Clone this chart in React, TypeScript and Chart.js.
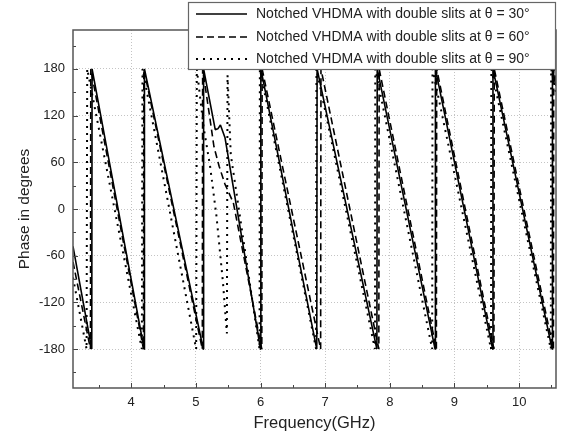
import React, { useEffect, useRef } from 'react';
import { Chart, registerables } from 'chart.js';

Chart.register(...registerables);

// ---- Data ----
const seriesLabels = [
  'Notched VHDMA with double slits at θ = 30°',
  'Notched VHDMA with double slits at θ = 60°',
  'Notched VHDMA with double slits at θ = 90°',
];

const freq30 = [3.1, 3.39, 3.395, 4.2, 4.205, 5.115, 5.12, 5.3, 5.34, 5.38, 5.45, 6.0, 6.005, 6.87, 6.875, 7.8, 7.805, 8.7, 8.705, 9.59, 9.595, 10.51, 10.515, 10.57];
const phase30 = [-48, -180, 180, -180, 180, -180, 180, 102, 103, 108, 92, -180, 180, -180, 180, -180, 180, -180, 180, -180, 180, -180, 180, 158];

const freq60 = [3.1, 3.37, 3.375, 4.19, 4.195, 5.1, 5.105, 5.22, 5.28, 5.36, 5.45, 5.58, 6.02, 6.025, 6.93, 6.935, 7.83, 7.835, 8.72, 8.725, 9.61, 9.615, 10.53, 10.535, 10.57];
const phase60 = [-68, -180, 180, -180, 180, -180, 180, 115, 80, 55, 32, 8, -180, 180, -180, 180, -180, 180, -180, 180, -180, 180, -180, 180, 165];

const freq90 = [3.1, 3.31, 3.32, 4.165, 4.175, 5.005, 5.015, 5.12, 5.22, 5.32, 5.42, 5.48, 5.49, 5.54, 5.985, 5.99, 6.86, 6.865, 7.77, 7.775, 8.655, 8.66, 9.565, 9.57, 10.49, 10.495, 10.57];
const phase90 = [-88, -180, 180, -180, 180, -180, 180, 105, 55, -10, -95, -160, 172, 70, -180, 180, -180, 180, -180, 180, -180, 180, -180, 180, -180, 180, 150];

const xMajorTicks = [4, 5, 6, 7, 8, 9, 10];
const xMinorTicks = [3.5, 4.5, 5.5, 6.5, 7.5, 8.5, 9.5, 10.5];
const yMajorTicks = [-180, -120, -60, 0, 60, 120, 180];
const yMinorTicks = [-210, -150, -90, -30, 30, 90, 150, 210];

const FONT = "'Liberation Sans', Arial, Helvetica, sans-serif";

function zip(xs: number[], ys: number[]) {
  return xs.map((x, i) => ({ x, y: ys[i] }));
}

const framePlugin = {
  id: 'frameTicksLegend',
  afterDraw(chart: any) {
    const { ctx, chartArea } = chart;
    const { left, right, top, bottom } = chartArea;
    const xs = chart.scales.x;
    const ys = chart.scales.y;
    ctx.save();
    // inward ticks
    ctx.strokeStyle = '#444';
    ctx.lineWidth = 1;
    ctx.setLineDash([]);
    ctx.beginPath();
    xMajorTicks.forEach((v) => {
      const p = Math.round(xs.getPixelForValue(v)) + 0.5;
      ctx.moveTo(p, bottom);
      ctx.lineTo(p, bottom - 5);
    });
    xMinorTicks.forEach((v) => {
      const p = Math.round(xs.getPixelForValue(v)) + 0.5;
      ctx.moveTo(p, bottom);
      ctx.lineTo(p, bottom - 3);
    });
    yMajorTicks.forEach((v) => {
      const p = Math.round(ys.getPixelForValue(v)) + 0.5;
      ctx.moveTo(left, p);
      ctx.lineTo(left + 5, p);
    });
    yMinorTicks.forEach((v) => {
      const p = Math.round(ys.getPixelForValue(v)) + 0.5;
      ctx.moveTo(left, p);
      ctx.lineTo(left + 3, p);
    });
    ctx.stroke();
    // frame
    ctx.strokeStyle = '#555';
    ctx.lineWidth = 1.5;
    ctx.strokeRect(left, top, right - left, bottom - top);

    // legend box
    const bx = 188, by = 2, bw = right - 188, bh = 68;
    ctx.fillStyle = '#ffffff';
    ctx.fillRect(bx, by, bw, bh);
    ctx.strokeStyle = '#666';
    ctx.lineWidth = 1.2;
    ctx.strokeRect(bx + 0.5, by + 0.5, bw - 1, bh - 1);
    const rows = [14, 37, 59];
    chart.data.datasets.forEach((ds: any, i: number) => {
      const yy = rows[i];
      ctx.strokeStyle = ds.borderColor;
      ctx.lineWidth = ds.borderWidth;
      ctx.setLineDash(ds.borderDash || []);
      ctx.beginPath();
      ctx.moveTo(196, yy);
      ctx.lineTo(247, yy);
      ctx.stroke();
      ctx.setLineDash([]);
      ctx.fillStyle = '#222';
      ctx.font = `14px ${FONT}`;
      ctx.textBaseline = 'middle';
      ctx.textAlign = 'left';
      ctx.fillText(ds.label, 256, yy);
    });
    ctx.restore();
  },
};

export default function App() {
  const canvasRef = useRef<HTMLCanvasElement | null>(null);

  useEffect(() => {
    if (!canvasRef.current) return;
    const common = {
      borderColor: '#000',
      pointRadius: 0,
      tension: 0,
      fill: false,
      borderJoinStyle: 'bevel',
    };
    const chart = new Chart(canvasRef.current, {
      type: 'line',
      data: {
        datasets: [
          {
            ...common,
            label: seriesLabels[0],
            data: zip(freq30, phase30),
            borderWidth: 1.6,
            borderDash: [],
          },
          {
            ...common,
            label: seriesLabels[1],
            data: zip(freq60, phase60),
            borderWidth: 1.6,
            borderDash: [7, 4],
          },
          {
            ...common,
            label: seriesLabels[2],
            data: zip(freq90, phase90),
            borderWidth: 2,
            borderDash: [2, 5],
          },
        ],
      },
      options: {
        animation: false,
        responsive: false,
        maintainAspectRatio: false,
        events: [],
        layout: { padding: { top: 30, right: 8, left: 0, bottom: 0 } },
        plugins: {
          legend: { display: false },
          tooltip: { enabled: false },
          title: { display: false },
        },
        scales: {
          x: {
            type: 'linear',
            min: 3.1,
            max: 10.57,
            afterBuildTicks: (scale: any) => {
              scale.ticks = xMajorTicks.map((v) => ({ value: v }));
            },
            afterFit: (scale: any) => {
              scale.height = 53;
            },
            ticks: {
              padding: 7,
              color: '#222',
              font: { size: 13, family: FONT },
              maxRotation: 0,
              autoSkip: false,
            },
            grid: {
              display: true,
              drawTicks: false,
              color: '#c4c4c4',
              lineWidth: 1,
            },
            border: { display: false, dash: [1, 2] },
            title: {
              display: true,
              text: 'Frequency(GHz)',
              color: '#222',
              font: { size: 16.5, family: FONT },
              padding: { top: 0, bottom: 8 },
            },
          },
          y: {
            type: 'linear',
            min: -230,
            max: 230,
            afterBuildTicks: (scale: any) => {
              scale.ticks = yMajorTicks.map((v) => ({ value: v }));
            },
            afterFit: (scale: any) => {
              scale.width = 73;
            },
            ticks: {
              padding: 8,
              color: '#222',
              font: { size: 13, family: FONT },
              autoSkip: false,
            },
            grid: {
              display: true,
              drawTicks: false,
              color: '#c4c4c4',
              lineWidth: 1,
            },
            border: { display: false, dash: [1, 2] },
            title: {
              display: true,
              text: 'Phase in degrees',
              color: '#222',
              font: { size: 15.5, family: FONT },
              padding: { top: 15, bottom: 0 },
            },
          },
        },
      },
      plugins: [framePlugin],
    } as any);
    return () => chart.destroy();
  }, []);

  return (
    <div style={{ position: 'fixed', left: 0, top: 0, width: 564, height: 441, background: '#fff' }}>
      <canvas ref={canvasRef} width={564} height={441} style={{ width: 564, height: 441, display: 'block' }} />
    </div>
  );
}
